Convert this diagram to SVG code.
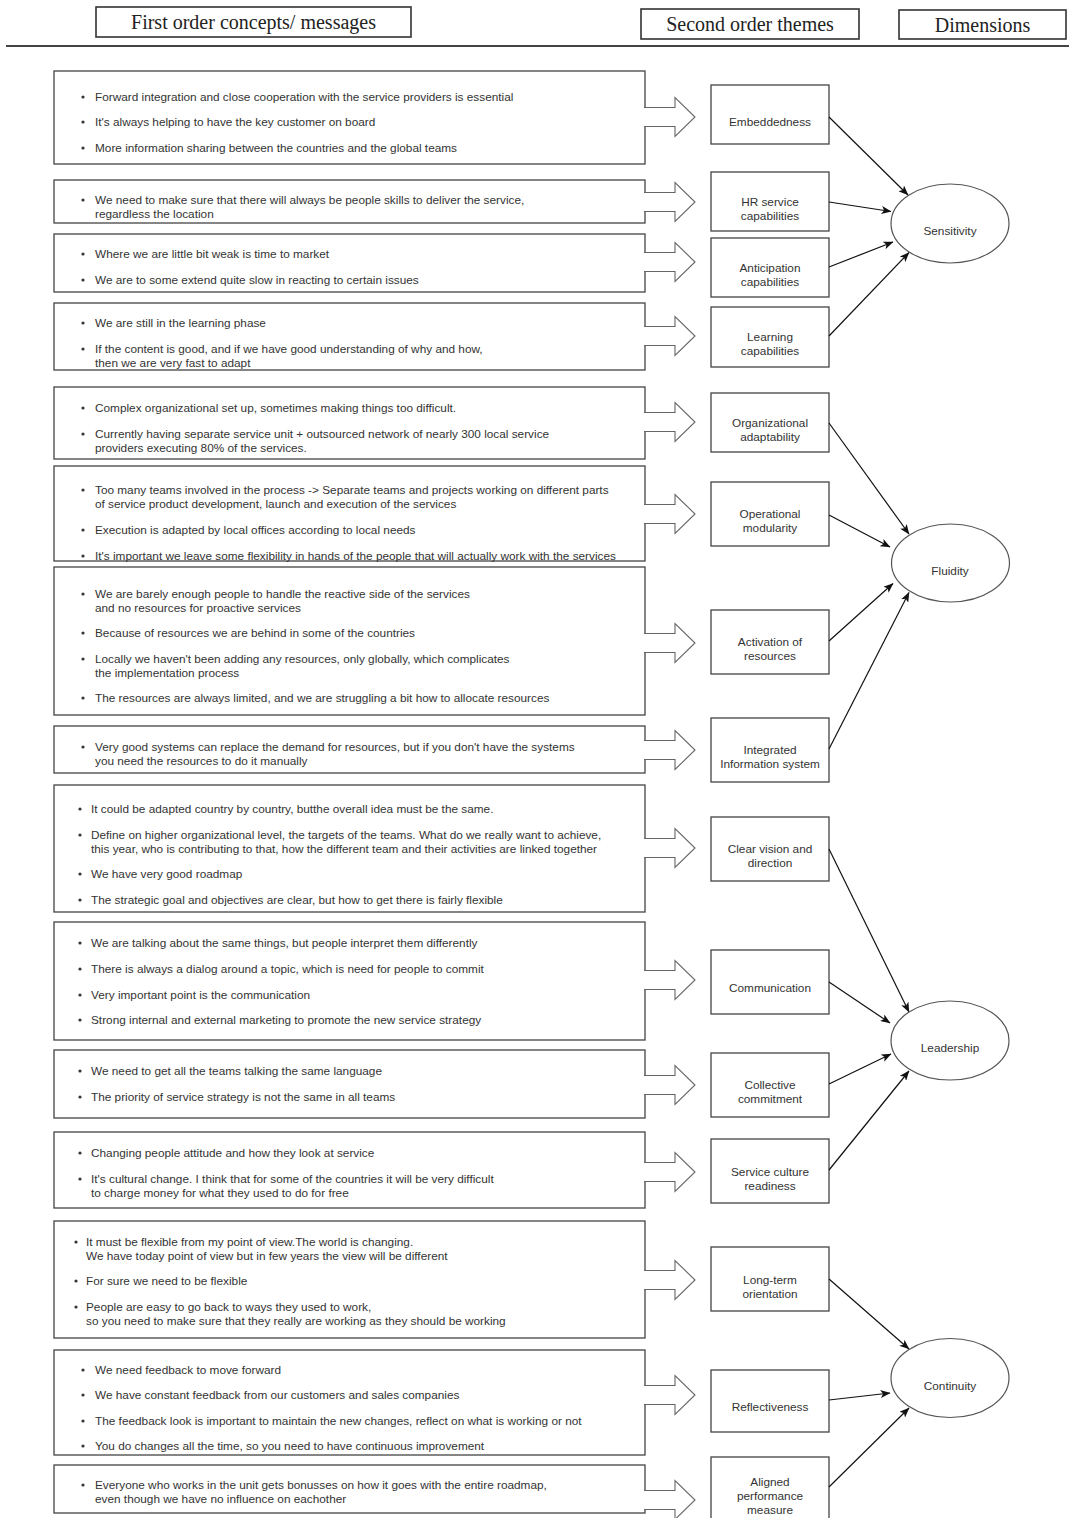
<svg xmlns="http://www.w3.org/2000/svg" width="1069" height="1518" viewBox="0 0 1069 1518">
  <defs>
    <style>
      .hdr { fill: #fff; stroke: #333; stroke-width: 1.6; }
      .hdrtxt { font-family: "Liberation Serif", "Times New Roman", serif; font-size: 20px; fill: #222; text-anchor: middle; }
      .box { fill: #fff; stroke: #444; stroke-width: 1.3; }
      .shaft { fill: #fff; stroke: #666; stroke-width: 1.1; }
      .txt { font-family: "Liberation Sans", Arial, sans-serif; font-size: 11.8px; fill: #333; }
      .dot { fill: #333; }
      .theme { fill: #fff; stroke: #444; stroke-width: 1.3; }
      .ttxt { font-family: "Liberation Sans", Arial, sans-serif; font-size: 11.8px; fill: #333; text-anchor: middle; }
      .dim { fill: #fff; stroke: #555; stroke-width: 1.2; }
      .link { stroke: #111; stroke-width: 1.2; fill: none; marker-end: url(#head); }
    </style>
    <marker id="head" viewBox="0 0 10 8" refX="9.5" refY="4" markerWidth="10" markerHeight="8" markerUnits="userSpaceOnUse" orient="auto">
      <path d="M0,0 L10,4 L0,8 L2.5,4 z" fill="#111"/>
    </marker>
  </defs>

  <!-- column headings -->
  <g id="headings">
    <rect class="hdr" x="96" y="7" width="315" height="30"/>
    <text class="hdrtxt" x="253.5" y="28.5">First order concepts/ messages</text>
    <rect class="hdr" x="641" y="9" width="218" height="30"/>
    <text class="hdrtxt" x="750" y="30.5">Second order themes</text>
    <rect class="hdr" x="899" y="10" width="167" height="29"/>
    <text class="hdrtxt" x="982.5" y="31.5">Dimensions</text>
    <line x1="6" y1="46" x2="1069" y2="46" stroke="#444" stroke-width="2"/>
  </g>

  <!-- first order concept boxes with their block arrows -->
  <g id="concepts-1">
    <rect class="box" x="54" y="71" width="591" height="93"/>
    <path class="shaft" d="M644,107.5 H675 V97.5 L695,117 L675,136.5 V126.5 H644"/>
    <circle class="dot" cx="83" cy="97" r="1.6"/><text class="txt" x="95" y="101">Forward integration and close cooperation with the service providers is essential</text>
    <circle class="dot" cx="83" cy="122" r="1.6"/><text class="txt" x="95" y="126">It's always helping to have the key customer on board</text>
    <circle class="dot" cx="83" cy="148" r="1.6"/><text class="txt" x="95" y="152">More information sharing between the countries and the global teams</text>
  </g>
  <g id="concepts-2">
    <rect class="box" x="54" y="180" width="591" height="43"/>
    <path class="shaft" d="M644,192.5 H675 V182.5 L695,202 L675,221.5 V211.5 H644"/>
    <circle class="dot" cx="83" cy="200" r="1.6"/><text class="txt" x="95" y="204">We need to make sure that there will always be people skills to deliver the service,</text>
    <text class="txt" x="95" y="218">regardless the location</text>
  </g>
  <g id="concepts-3">
    <rect class="box" x="54" y="234" width="591" height="58"/>
    <path class="shaft" d="M644,252.5 H675 V242.5 L695,262 L675,281.5 V271.5 H644"/>
    <circle class="dot" cx="83" cy="254" r="1.6"/><text class="txt" x="95" y="258">Where we are little bit weak is time to market</text>
    <circle class="dot" cx="83" cy="280" r="1.6"/><text class="txt" x="95" y="284">We are to some extend quite slow in reacting to certain issues</text>
  </g>
  <g id="concepts-4">
    <rect class="box" x="54" y="303" width="591" height="67"/>
    <path class="shaft" d="M644,326.5 H675 V316.5 L695,336 L675,355.5 V345.5 H644"/>
    <circle class="dot" cx="83" cy="323" r="1.6"/><text class="txt" x="95" y="327">We are still in the learning phase</text>
    <circle class="dot" cx="83" cy="349" r="1.6"/><text class="txt" x="95" y="353">If the content is good, and if we have good understanding of why and how,</text>
    <text class="txt" x="95" y="367">then we are very fast to adapt</text>
  </g>
  <g id="concepts-5">
    <rect class="box" x="54" y="387" width="591" height="72"/>
    <path class="shaft" d="M644,412.5 H675 V402.5 L695,422 L675,441.5 V431.5 H644"/>
    <circle class="dot" cx="83" cy="408" r="1.6"/><text class="txt" x="95" y="412">Complex organizational set up, sometimes making things too difficult.</text>
    <circle class="dot" cx="83" cy="434" r="1.6"/><text class="txt" x="95" y="438">Currently having separate service unit + outsourced network of nearly 300 local service</text>
    <text class="txt" x="95" y="452">providers executing 80% of the services.</text>
  </g>
  <g id="concepts-6">
    <rect class="box" x="54" y="466" width="591" height="95"/>
    <path class="shaft" d="M644,504.5 H675 V494.5 L695,514 L675,533.5 V523.5 H644"/>
    <circle class="dot" cx="83" cy="490" r="1.6"/><text class="txt" x="95" y="494">Too many teams involved in the process -&gt; Separate teams and projects working on different parts</text>
    <text class="txt" x="95" y="508">of service product development, launch and execution of the services</text>
    <circle class="dot" cx="83" cy="530" r="1.6"/><text class="txt" x="95" y="534">Execution is adapted by local offices according to local needs</text>
    <circle class="dot" cx="83" cy="556" r="1.6"/><text class="txt" x="95" y="560">It's important we leave some flexibility in hands of the people that will actually work with the services</text>
  </g>
  <g id="concepts-7">
    <rect class="box" x="54" y="567" width="591" height="148"/>
    <path class="shaft" d="M644,633.5 H675 V623.5 L695,643 L675,662.5 V652.5 H644"/>
    <circle class="dot" cx="83" cy="594" r="1.6"/><text class="txt" x="95" y="598">We are barely enough people to handle the reactive side of the services</text>
    <text class="txt" x="95" y="612">and no resources for proactive services</text>
    <circle class="dot" cx="83" cy="633" r="1.6"/><text class="txt" x="95" y="637">Because of resources we are behind in some of the countries</text>
    <circle class="dot" cx="83" cy="659" r="1.6"/><text class="txt" x="95" y="663">Locally we haven't been adding any resources, only globally, which complicates</text>
    <text class="txt" x="95" y="677">the implementation process</text>
    <circle class="dot" cx="83" cy="698" r="1.6"/><text class="txt" x="95" y="702">The resources are always limited, and we are struggling a bit how to allocate resources</text>
  </g>
  <g id="concepts-8">
    <rect class="box" x="54" y="726" width="591" height="47"/>
    <path class="shaft" d="M644,740.5 H675 V730.5 L695,750 L675,769.5 V759.5 H644"/>
    <circle class="dot" cx="83" cy="747" r="1.6"/><text class="txt" x="95" y="751">Very good systems can replace the demand for resources, but if you don't have the systems</text>
    <text class="txt" x="95" y="765">you need the resources to do it manually</text>
  </g>
  <g id="concepts-9">
    <rect class="box" x="54" y="785" width="591" height="127"/>
    <path class="shaft" d="M644,838.5 H675 V828.5 L695,848 L675,867.5 V857.5 H644"/>
    <circle class="dot" cx="80" cy="809" r="1.6"/><text class="txt" x="91" y="813">It could be adapted country by country, butthe overall idea must be the same.</text>
    <circle class="dot" cx="80" cy="835" r="1.6"/><text class="txt" x="91" y="839">Define on higher organizational level, the targets of the teams. What do we really want to achieve,</text>
    <text class="txt" x="91" y="853">this year, who is contributing to that, how the different team and their activities are linked together</text>
    <circle class="dot" cx="80" cy="874" r="1.6"/><text class="txt" x="91" y="878">We have very good roadmap</text>
    <circle class="dot" cx="80" cy="900" r="1.6"/><text class="txt" x="91" y="904">The strategic goal and objectives are clear, but how to get there is fairly flexible</text>
  </g>
  <g id="concepts-10">
    <rect class="box" x="54" y="922" width="591" height="118"/>
    <path class="shaft" d="M644,970.5 H675 V960.5 L695,980 L675,999.5 V989.5 H644"/>
    <circle class="dot" cx="80" cy="943" r="1.6"/><text class="txt" x="91" y="947">We are talking about the same things, but people interpret them differently</text>
    <circle class="dot" cx="80" cy="969" r="1.6"/><text class="txt" x="91" y="973">There is always a dialog around a topic, which is need for people to commit</text>
    <circle class="dot" cx="80" cy="995" r="1.6"/><text class="txt" x="91" y="999">Very important point is the communication</text>
    <circle class="dot" cx="80" cy="1020" r="1.6"/><text class="txt" x="91" y="1024">Strong internal and external marketing to promote the new service strategy</text>
  </g>
  <g id="concepts-11">
    <rect class="box" x="54" y="1050" width="591" height="68"/>
    <path class="shaft" d="M644,1075.5 H675 V1065.5 L695,1085 L675,1104.5 V1094.5 H644"/>
    <circle class="dot" cx="80" cy="1071" r="1.6"/><text class="txt" x="91" y="1075">We need to get all the teams talking the same language</text>
    <circle class="dot" cx="80" cy="1097" r="1.6"/><text class="txt" x="91" y="1101">The priority of service strategy is not the same in all teams</text>
  </g>
  <g id="concepts-12">
    <rect class="box" x="54" y="1132" width="591" height="76"/>
    <path class="shaft" d="M644,1162.5 H675 V1152.5 L695,1172 L675,1191.5 V1181.5 H644"/>
    <circle class="dot" cx="80" cy="1153" r="1.6"/><text class="txt" x="91" y="1157">Changing people attitude and how they look at service</text>
    <circle class="dot" cx="80" cy="1179" r="1.6"/><text class="txt" x="91" y="1183">It's cultural change. I think that for some of the countries it will be very difficult</text>
    <text class="txt" x="91" y="1197">to charge money for what they used to do for free</text>
  </g>
  <g id="concepts-13">
    <rect class="box" x="54" y="1221" width="591" height="117"/>
    <path class="shaft" d="M644,1270.5 H675 V1260.5 L695,1280 L675,1299.5 V1289.5 H644"/>
    <circle class="dot" cx="76" cy="1242" r="1.6"/><text class="txt" x="86" y="1246">It must be flexible from my point of view.The world is changing.</text>
    <text class="txt" x="86" y="1260">We have today point of view but in few years the view will be different</text>
    <circle class="dot" cx="76" cy="1281" r="1.6"/><text class="txt" x="86" y="1285">For sure we need to be flexible</text>
    <circle class="dot" cx="76" cy="1307" r="1.6"/><text class="txt" x="86" y="1311">People are easy to go back to ways they used to work,</text>
    <text class="txt" x="86" y="1325">so you need to make sure that they really are working as they should be working</text>
  </g>
  <g id="concepts-14">
    <rect class="box" x="54" y="1350" width="591" height="105"/>
    <path class="shaft" d="M644,1385.5 H675 V1375.5 L695,1395 L675,1414.5 V1404.5 H644"/>
    <circle class="dot" cx="83" cy="1370" r="1.6"/><text class="txt" x="95" y="1374">We need feedback to move forward</text>
    <circle class="dot" cx="83" cy="1395" r="1.6"/><text class="txt" x="95" y="1399">We have constant feedback from our customers and sales companies</text>
    <circle class="dot" cx="83" cy="1421" r="1.6"/><text class="txt" x="95" y="1425">The feedback look is important to maintain the new changes, reflect on what is working or not</text>
    <circle class="dot" cx="83" cy="1446" r="1.6"/><text class="txt" x="95" y="1450">You do changes all the time, so you need to have continuous improvement</text>
  </g>
  <g id="concepts-15">
    <rect class="box" x="54" y="1465" width="591" height="48"/>
    <path class="shaft" d="M644,1490.5 H675 V1480.5 L695,1500 L675,1519.5 V1509.5 H644"/>
    <circle class="dot" cx="83" cy="1485" r="1.6"/><text class="txt" x="95" y="1489">Everyone who works in the unit gets bonusses on how it goes with the entire roadmap,</text>
    <text class="txt" x="95" y="1503">even though we have no influence on eachother</text>
  </g>

  <!-- second order themes -->
  <g id="theme-embeddedness">
    <rect class="theme" x="711" y="85" width="118" height="59"/>
    <text class="ttxt" x="770" y="126">Embeddedness</text>
  </g>
  <g id="theme-hr">
    <rect class="theme" x="711" y="172" width="118" height="59"/>
    <text class="ttxt" x="770" y="206">HR service</text>
    <text class="ttxt" x="770" y="220">capabilities</text>
  </g>
  <g id="theme-anticipation">
    <rect class="theme" x="711" y="238" width="118" height="59"/>
    <text class="ttxt" x="770" y="272">Anticipation</text>
    <text class="ttxt" x="770" y="286">capabilities</text>
  </g>
  <g id="theme-learning">
    <rect class="theme" x="711" y="307" width="118" height="60"/>
    <text class="ttxt" x="770" y="341">Learning</text>
    <text class="ttxt" x="770" y="355">capabilities</text>
  </g>
  <g id="theme-org-adaptability">
    <rect class="theme" x="711" y="393" width="118" height="59"/>
    <text class="ttxt" x="770" y="427">Organizational</text>
    <text class="ttxt" x="770" y="441">adaptability</text>
  </g>
  <g id="theme-modularity">
    <rect class="theme" x="711" y="482" width="118" height="64"/>
    <text class="ttxt" x="770" y="518">Operational</text>
    <text class="ttxt" x="770" y="532">modularity</text>
  </g>
  <g id="theme-activation">
    <rect class="theme" x="711" y="610" width="118" height="64"/>
    <text class="ttxt" x="770" y="646">Activation of</text>
    <text class="ttxt" x="770" y="660">resources</text>
  </g>
  <g id="theme-info-system">
    <rect class="theme" x="711" y="718" width="118" height="64"/>
    <text class="ttxt" x="770" y="754">Integrated</text>
    <text class="ttxt" x="770" y="768">Information system</text>
  </g>
  <g id="theme-vision">
    <rect class="theme" x="711" y="817" width="118" height="64"/>
    <text class="ttxt" x="770" y="853">Clear vision and</text>
    <text class="ttxt" x="770" y="867">direction</text>
  </g>
  <g id="theme-communication">
    <rect class="theme" x="711" y="950" width="118" height="64"/>
    <text class="ttxt" x="770" y="992">Communication</text>
  </g>
  <g id="theme-commitment">
    <rect class="theme" x="711" y="1053" width="118" height="64"/>
    <text class="ttxt" x="770" y="1089">Collective</text>
    <text class="ttxt" x="770" y="1103">commitment</text>
  </g>
  <g id="theme-culture">
    <rect class="theme" x="711" y="1139" width="118" height="64"/>
    <text class="ttxt" x="770" y="1176">Service culture</text>
    <text class="ttxt" x="770" y="1190">readiness</text>
  </g>
  <g id="theme-long-term">
    <rect class="theme" x="711" y="1247" width="118" height="64"/>
    <text class="ttxt" x="770" y="1284">Long-term</text>
    <text class="ttxt" x="770" y="1298">orientation</text>
  </g>
  <g id="theme-reflectiveness">
    <rect class="theme" x="711" y="1370" width="118" height="62"/>
    <text class="ttxt" x="770" y="1411">Reflectiveness</text>
  </g>
  <g id="theme-performance">
    <rect class="theme" x="711" y="1457" width="118" height="70"/>
    <text class="ttxt" x="770" y="1486">Aligned</text>
    <text class="ttxt" x="770" y="1500">performance</text>
    <text class="ttxt" x="770" y="1514">measure</text>
  </g>

  <!-- theme to dimension connectors -->
  <g id="connectors">
    <line class="link" x1="829" y1="117" x2="908" y2="195"/>
    <line class="link" x1="829" y1="202" x2="891" y2="211.5"/>
    <line class="link" x1="829" y1="267" x2="893" y2="242"/>
    <line class="link" x1="829" y1="336" x2="909" y2="252.5"/>
    <line class="link" x1="829" y1="423" x2="909" y2="534"/>
    <line class="link" x1="829" y1="515" x2="890" y2="547"/>
    <line class="link" x1="829" y1="641" x2="893" y2="583.5"/>
    <line class="link" x1="829" y1="749" x2="909" y2="592.5"/>
    <line class="link" x1="829" y1="849" x2="909" y2="1012"/>
    <line class="link" x1="829" y1="982" x2="890" y2="1023"/>
    <line class="link" x1="829" y1="1084" x2="891" y2="1054"/>
    <line class="link" x1="829" y1="1170" x2="909" y2="1071"/>
    <line class="link" x1="829" y1="1279" x2="909" y2="1349"/>
    <line class="link" x1="829" y1="1400" x2="890" y2="1393"/>
    <line class="link" x1="829" y1="1487" x2="909" y2="1408"/>
  </g>

  <!-- dimensions -->
  <g id="dim-sensitivity">
    <ellipse class="dim" cx="950" cy="223.5" rx="59" ry="39.5"/>
    <text class="ttxt" x="950" y="235">Sensitivity</text>
  </g>
  <g id="dim-fluidity">
    <ellipse class="dim" cx="950.5" cy="563" rx="59" ry="39"/>
    <text class="ttxt" x="950" y="575">Fluidity</text>
  </g>
  <g id="dim-leadership">
    <ellipse class="dim" cx="950" cy="1040.5" rx="59" ry="39.5"/>
    <text class="ttxt" x="950" y="1052">Leadership</text>
  </g>
  <g id="dim-continuity">
    <ellipse class="dim" cx="950" cy="1378" rx="59" ry="39.5"/>
    <text class="ttxt" x="950" y="1390">Continuity</text>
  </g>
</svg>
